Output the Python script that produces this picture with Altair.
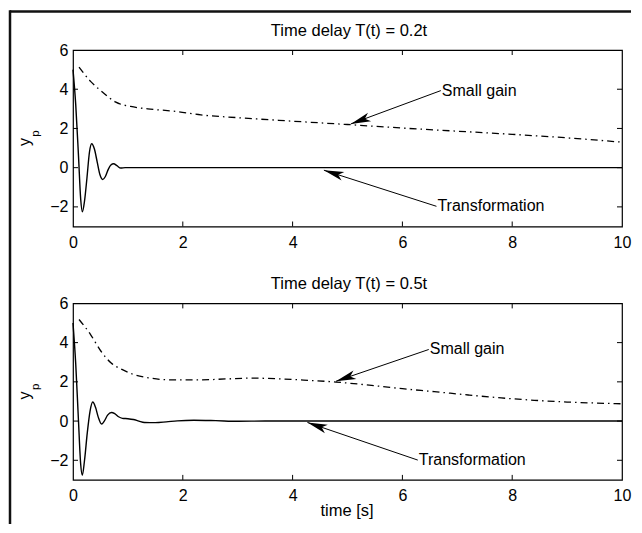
import math
import altair as alt
import pandas as pd

FONT = "Liberation Sans"

# ---------------- data ----------------
titles = ["Time delay T(t) = 0.2t", "Time delay T(t) = 0.5t"]

# panel 1 (T(t) = 0.2t)
top_tr_t = [0.0, 0.05, 0.10, 0.14, 0.17, 0.21, 0.255, 0.30, 0.34, 0.39, 0.44, 0.49, 0.54,
            0.59, 0.64, 0.69, 0.74, 0.80, 0.87, 0.95, 1.5, 10.0]
top_tr_y = [5.0, 3.2, 0.6, -1.6, -2.25, -1.7, -0.5, 0.8, 1.22, 0.95, 0.3, -0.35, -0.6,
            -0.45, -0.1, 0.14, 0.2, 0.1, -0.02, 0.0, 0.0, 0.0]
top_sg_t = [0.11, 0.32, 0.54, 0.78, 1.05, 1.36, 1.87, 2.33, 3.0, 4.0, 5.0, 6.0, 7.0, 8.0, 9.0, 10.0]
top_sg_y = [5.13, 4.4, 3.85, 3.34, 3.12, 3.0, 2.87, 2.69, 2.55, 2.37, 2.2, 2.02, 1.86, 1.7, 1.52, 1.3]

# panel 2 (T(t) = 0.5t)
bot_tr_t = [0.0, 0.05, 0.10, 0.14, 0.17, 0.21, 0.26, 0.31, 0.36, 0.41, 0.46, 0.52, 0.57, 0.63,
            0.70, 0.76, 0.83, 0.90, 1.0, 1.1, 1.2, 1.3, 1.5, 1.7, 1.9, 2.2, 2.6, 3.0, 3.5, 10.0]
bot_tr_y = [5.0, 2.9, 0.0, -2.2, -2.76, -2.0, -0.6, 0.5, 0.97, 0.7, 0.2, -0.15, 0.0, 0.3,
            0.44, 0.38, 0.22, 0.14, 0.12, 0.08, 0.0, -0.07, -0.08, -0.04, 0.01, 0.04, 0.02, -0.01, 0.0, 0.0]
bot_sg_t = [0.11, 0.32, 0.51, 0.69, 0.9, 1.08, 1.39, 1.66, 1.87, 2.33, 2.8, 3.24, 3.7, 4.2,
            4.79, 5.5, 6.0, 6.58, 7.2, 7.8, 8.4, 9.0, 9.5, 10.0]
bot_sg_y = [5.18, 4.41, 3.56, 2.97, 2.62, 2.40, 2.2, 2.11, 2.10, 2.1, 2.15, 2.19, 2.16, 2.09,
            1.99, 1.8, 1.65, 1.5, 1.33, 1.18, 1.06, 0.97, 0.92, 0.88]

# annotations: label, tail (x, y), tip (x, y)
top_ann_label = ["Small gain", "Transformation"]
top_ann_tail_x = [6.70, 6.62]
top_ann_tail_y = [3.93, -1.97]
top_ann_tip_x = [5.06, 4.57]
top_ann_tip_y = [2.23, -0.13]

bot_ann_label = ["Small gain", "Transformation"]
bot_ann_tail_x = [6.48, 6.28]
bot_ann_tail_y = [3.65, -1.99]
bot_ann_tip_x = [4.79, 4.27]
bot_ann_tip_y = [2.03, -0.07]

x_tick_labels = [0, 2, 4, 6, 8, 10]
y_tick_labels = [-2, 0, 2, 4, 6]
x_inner_ticks = [2, 4, 6, 8]
y_inner_ticks = [-2, 0, 2, 4]

# ---------------- layout ----------------
W, H = 549, 176.5
XS = W / 10.0
YS = H / 9.0

ARROW = "M0,0 L-2,-0.45 L-1.5,0 L-2,0.45 Z"


def xenc(field):
    return alt.X(field, type="quantitative",
                 scale=alt.Scale(domain=[0, 10], nice=False, zero=False),
                 axis=alt.Axis(values=x_tick_labels, ticks=False, tickSize=0, domain=False,
                               grid=False, labelFont=FONT, labelFontSize=16, labelPadding=8,
                               labelColor="black", labelFlush=False, title=None))


def yenc(field):
    return alt.Y(field, type="quantitative",
                 scale=alt.Scale(domain=[-3, 6], nice=False, zero=False),
                 axis=alt.Axis(values=y_tick_labels, ticks=False, tickSize=0, domain=False,
                               grid=False, labelFont=FONT, labelFontSize=16, labelPadding=5,
                               labelColor="black", title=None))


def panel(tr_t, tr_y, sg_t, sg_y, title, labels, tx, ty, hx, hy, xtitle, border):
    df_tr = pd.DataFrame({"t": tr_t, "y": tr_y})
    df_sg = pd.DataFrame({"t": sg_t, "y": sg_y})
    ang = []
    for a, b, c, d in zip(tx, ty, hx, hy):
        dx = (c - a) * XS
        dy = -(d - b) * YS
        ang.append(math.degrees(math.atan2(dy, dx)) % 360)
    df_ann = pd.DataFrame({"label": labels, "tx": tx, "ty": ty, "hx": hx, "hy": hy, "ang": ang})

    tr = alt.Chart(df_tr).mark_line(color="black", strokeWidth=1.4, interpolate="monotone").encode(
        x=xenc("t"), y=yenc("y"))
    sg = alt.Chart(df_sg).mark_line(color="black", strokeWidth=1.3, strokeDash=[7, 4, 1.5, 4],
                                    interpolate="monotone").encode(x=xenc("t"), y=yenc("y"))
    arrows = alt.Chart(df_ann).mark_rule(color="black", strokeWidth=1).encode(
        x=xenc("tx"), y=yenc("ty"), x2="hx", y2="hy")
    heads = alt.Chart(df_ann).mark_point(shape=ARROW, filled=True, size=400, color="black",
                                         opacity=1, strokeWidth=0).encode(
        x=xenc("hx"), y=yenc("hy"), angle=alt.Angle("ang:Q", scale=None))
    texts = alt.Chart(df_ann).mark_text(align="left", baseline="middle", font=FONT, fontSize=16,
                                        dx=1, color="black").encode(
        x=xenc("tx"), y=yenc("ty"), text="label:N")

    tdf_x = pd.DataFrame({"v": x_inner_ticks})
    tdf_y = pd.DataFrame({"v": y_inner_ticks})
    tk_b = alt.Chart(tdf_x).mark_rule(color="black", strokeWidth=1).encode(
        x=xenc("v"), y=alt.value(H), y2=alt.value(H - 5))
    tk_t = alt.Chart(tdf_x).mark_rule(color="black", strokeWidth=1).encode(
        x=xenc("v"), y=alt.value(0), y2=alt.value(5))
    tk_l = alt.Chart(tdf_y).mark_rule(color="black", strokeWidth=1).encode(
        y=yenc("v"), x=alt.value(0), x2=alt.value(5))
    tk_r = alt.Chart(tdf_y).mark_rule(color="black", strokeWidth=1).encode(
        y=yenc("v"), x=alt.value(W), x2=alt.value(W - 5))

    ttl = alt.Chart(pd.DataFrame({"s": [title]})).mark_text(
        align="center", baseline="alphabetic", font=FONT, fontSize=16.5, color="black").encode(
        x=alt.value(276), y=alt.value(-14.5), text="s:N")
    ylab = alt.Chart(pd.DataFrame({"s": ["y"]})).mark_text(
        align="center", baseline="middle", font=FONT, fontSize=16, angle=270, color="black").encode(
        x=alt.value(-48.5), y=alt.value(92), text="s:N")
    ysub = alt.Chart(pd.DataFrame({"s": ["p"]})).mark_text(
        align="center", baseline="middle", font=FONT, fontSize=11.5, angle=270, color="black").encode(
        x=alt.value(-37), y=alt.value(83.5), text="s:N")

    layers = [tr, sg, arrows, heads, texts, tk_b, tk_t, tk_l, tk_r, ttl, ylab, ysub]
    if xtitle:
        layers.append(alt.Chart(pd.DataFrame({"s": ["time [s]"]})).mark_text(
            align="center", baseline="alphabetic", font=FONT, fontSize=16.5, color="black").encode(
            x=alt.value(274), y=alt.value(212.5), text="s:N"))
    if border:
        one = pd.DataFrame({"k": [0]})
        layers.append(alt.Chart(one).mark_rule(color="#111", strokeWidth=2.5).encode(
            x=alt.value(-63), x2=alt.value(558), y=alt.value(-38.5)))
        layers.append(alt.Chart(one).mark_rule(color="#111", strokeWidth=2.5).encode(
            x=alt.value(-63), y=alt.value(-39.75), y2=alt.value(474)))
    return alt.layer(*layers).properties(width=W, height=H)


p1 = panel(top_tr_t, top_tr_y, top_sg_t, top_sg_y, titles[0], top_ann_label,
           top_ann_tail_x, top_ann_tail_y, top_ann_tip_x, top_ann_tip_y, False, True)
p2 = panel(bot_tr_t, bot_tr_y, bot_sg_t, bot_sg_y, titles[1], bot_ann_label,
           bot_ann_tail_x, bot_ann_tail_y, bot_ann_tip_x, bot_ann_tip_y, True, False)

chart = alt.vconcat(p1, p2, spacing=76.4, bounds="flush").properties(
    padding=0, background="white"
).configure_view(stroke="black", strokeWidth=1.2)

chart.save("out.html", embed_options={"renderer": "svg", "actions": False})
